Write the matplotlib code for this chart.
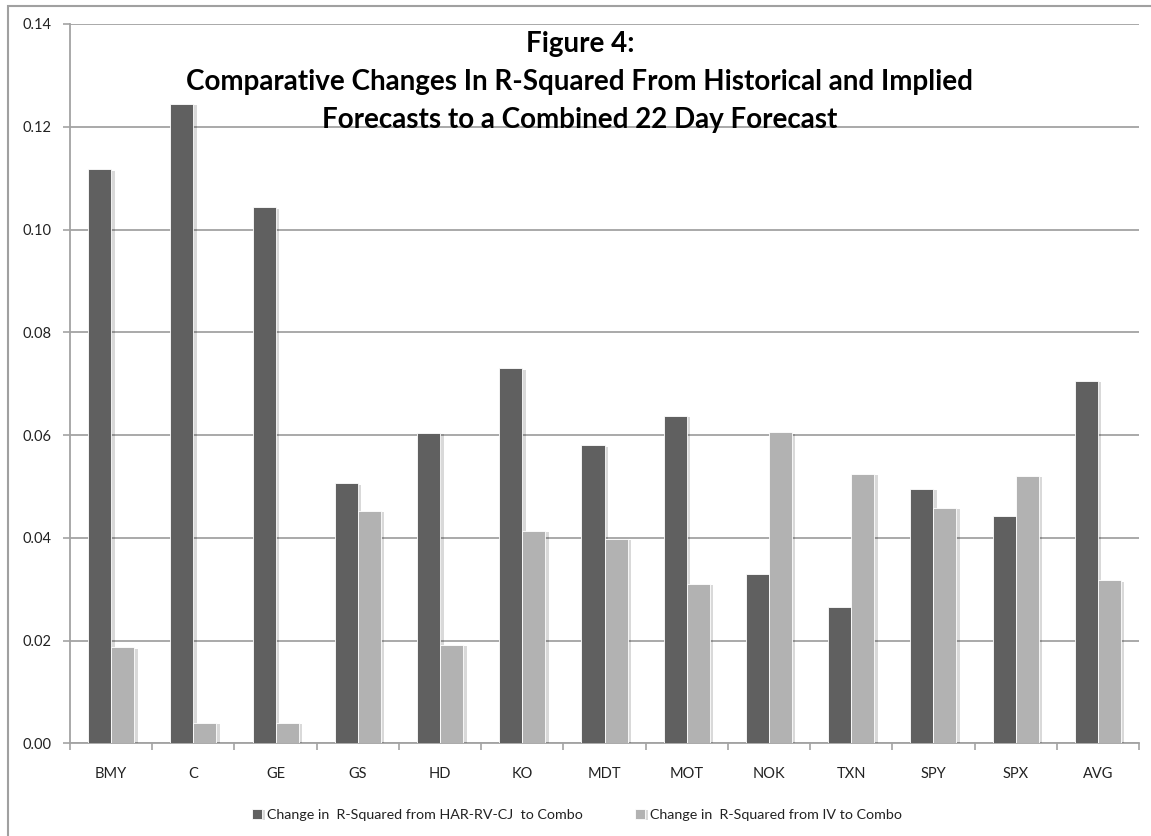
import numpy as np
import matplotlib.pyplot as plt
import matplotlib.patheffects as pe
from matplotlib.patches import Rectangle
from matplotlib.ticker import FormatStrFormatter, FixedLocator

plt.rcParams['font.family'] = ['Lato', 'DejaVu Sans']

tickers = ['BMY', 'C', 'GE', 'GS', 'HD', 'KO', 'MDT', 'MOT', 'NOK', 'TXN', 'SPY', 'SPX', 'AVG']
har_to_combo = [0.1117, 0.1245, 0.1043, 0.0506, 0.0604, 0.0730, 0.0580, 0.0637,
                0.0329, 0.0266, 0.0495, 0.0443, 0.0706]
iv_to_combo = [0.0187, 0.0040, 0.0040, 0.0452, 0.0192, 0.0413, 0.0398, 0.0310,
               0.0605, 0.0524, 0.0458, 0.0521, 0.0317]
series_names = ['Change in  R-Squared from HAR-RV-CJ  to Combo',
                'Change in  R-Squared from IV to Combo']

W, H = 1151, 836
fig = plt.figure(figsize=(W / 100, H / 100), dpi=100)
ax = fig.add_axes([70 / W, 1 - 743.3 / H, (1139 - 70) / W, (743.3 - 24) / H])

x = np.arange(len(tickers))
bw = 0.28
shadow = [pe.SimplePatchShadow(offset=(2.5, -1), shadow_rgbFace='#000000', alpha=0.15), pe.Normal()]
b1 = ax.bar(x - bw / 2, har_to_combo, bw, color='#606060', edgecolor='white', lw=0.6,
            label=series_names[0], zorder=3)
b2 = ax.bar(x + bw / 2, iv_to_combo, bw, color='#b2b2b2', edgecolor='white', lw=0.6,
            label=series_names[1], zorder=3)
for b in list(b1) + list(b2):
    b.set_path_effects(shadow)

ax.set_xlim(-0.5, len(tickers) - 0.5)
ax.set_ylim(0, 0.14)
ax.set_yticks(np.arange(0, 0.141, 0.02))
ax.yaxis.set_major_formatter(FormatStrFormatter('%.2f'))
ax.grid(axis='y', color='#a3a3a3', lw=1.3, zorder=0)

ax.set_xticks(x)
ax.set_xticklabels(tickers)
ax.xaxis.set_minor_locator(FixedLocator(np.arange(-0.5, len(tickers), 1.0)))
ax.tick_params(axis='x', which='major', length=0, pad=17, labelsize=10.5, labelcolor='#222222')
ax.tick_params(axis='x', which='minor', length=5, width=1.2, color='#a3a3a3', direction='out')
ax.tick_params(axis='y', length=5, width=1.2, color='#a3a3a3', pad=8, labelsize=10.5,
               labelcolor='#222222')

for s in ['top', 'right']:
    ax.spines[s].set_visible(False)
for s in ['left', 'bottom']:
    ax.spines[s].set_color('#a3a3a3')
    ax.spines[s].set_linewidth(1.3)

fig.text(580 / W, 1 - 31 / H,
         'Figure 4:\nComparative Changes In R-Squared From Historical and Implied\n'
         'Forecasts to a Combined 22 Day Forecast',
         ha='center', va='top', fontsize=20, fontweight='bold', linespacing=1.58,
         color='black')

leg = fig.legend(handles=[b1, b2], loc='center', bbox_to_anchor=(577 / W, 1 - 815 / H),
                 ncol=2, frameon=False, fontsize=10.3, handlelength=0.7, handleheight=0.7,
                 handletextpad=0.4, columnspacing=3.6)
for t in leg.get_texts():
    t.set_color('#222222')

# outer chart border
fig.patches.append(Rectangle((8 / W, -0.5), 2, 0.5 + 1 - 6 / H, transform=fig.transFigure,
                             fill=False, edgecolor='#a0a0a0', lw=1.5))

fig.savefig('out.png', dpi=100)
